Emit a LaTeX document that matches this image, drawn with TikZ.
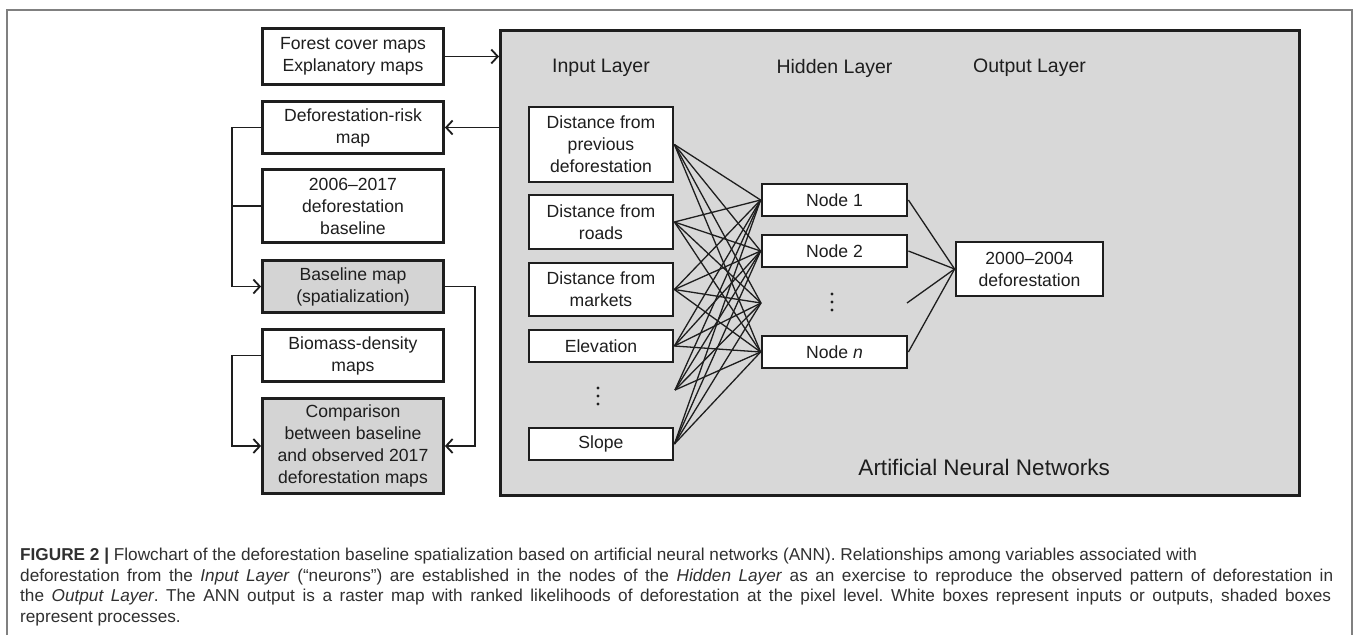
\documentclass[tikz,border=0pt]{standalone}
\usepackage{fontspec}
\setmainfont{Liberation Sans}
\usetikzlibrary{arrows.meta}
\definecolor{panel}{HTML}{D8D8D8}
\definecolor{proc}{HTML}{D4D4D4}
\definecolor{ink}{HTML}{1E1E1E}
\definecolor{framegray}{HTML}{808080}
\definecolor{captext}{HTML}{303030}
\frenchspacing
\newcommand{\capfont}{\fontsize{17.2}{20}\selectfont}

\begin{document}
\begin{tikzpicture}[x=1pt,y=-1pt,
  box/.style={draw=ink, line width=2.8pt, fill=white, align=center, inner sep=0pt,
              text=ink, font=\fontsize{17.6}{22}\selectfont},
  procbox/.style={box, fill=proc},
  link/.style={draw=ink, line width=1.8pt},
  arr/.style={link, -{Straight Barb[length=6.5pt,width=14pt]}},
  net/.style={draw=ink, line width=1.3pt},
  layer/.style={text=ink, font=\fontsize{19.5}{22}\selectfont},
  dotsmark/.style={inner sep=0pt, minimum width=6, minimum height=22},
  capline/.style={anchor=base west, inner sep=0pt, text=captext},
]
\useasboundingbox (0,0) rectangle (1358,635);
\fill[white] (0,0) rectangle (1358,635);

% page frame around figure and caption
\draw[framegray, line width=1.5pt] (7,635) -- (7,10) -- (1352,10) -- (1352,635);

% ANN panel
\node[draw=ink, line width=3.4pt, fill=panel, minimum width=799, minimum height=465,
      anchor=north west, inner sep=0pt] (ann) at (499,29) {};

% left column: inputs, outputs and processes
\node[box, minimum width=181, minimum height=56] (fc)   at (353,56.5) {Forest cover maps\\Explanatory maps};
\node[box, minimum width=181, minimum height=52] (risk) at (353,127.5) {Deforestation-risk\\map};
\node[box, minimum width=181, minimum height=73] (base) at (353,206) {2006--2017\\deforestation\\baseline};
\node[procbox, minimum width=181, minimum height=52] (bmap) at (353,286.5) {Baseline map\\(spatialization)};
\node[box, minimum width=181, minimum height=52] (bio)  at (353,355.5) {Biomass-density\\maps};
\node[procbox, minimum width=181, minimum height=95] (comp) at (353,446) {Comparison\\between baseline\\and observed 2017\\deforestation maps};

\coordinate (spineL) at (232,0);
\coordinate (spineR) at (475,0);

\draw[arr] (fc.east) -- (fc.east -| ann.west);
\draw[arr] (ann.west |- risk.east) -- (risk.east);
\draw[arr] (risk.west) -- (risk.west -| spineL) |- (bmap.west);
\draw[link] (base.west) -- (base.west -| spineL);
\draw[arr] (bio.west) -- (bio.west -| spineL) |- (comp.west);
\draw[arr] (bmap.east) -- (bmap.east -| spineR) |- (comp.east);

% layer titles
\node[layer] (tin)  at (601,68) {Input Layer};
\node[layer] (thid) at (834.5,68) {Hidden Layer};
\node[layer] (tout) at (1029.5,68) {Output Layer};

% input layer
\node[box, minimum width=144, minimum height=75] (in1) at (601,144.5) {Distance from\\previous\\deforestation};
\node[box, minimum width=144, minimum height=54] (in2) at (601,222) {Distance from\\roads};
\node[box, minimum width=144, minimum height=53] (in3) at (601,289.5) {Distance from\\markets};
\node[box, minimum width=144, minimum height=32] (in4) at (601,346) {Elevation};
\node[dotsmark] (idots) at (598,396) {};
\coordinate (idotsR) at (675,390);
\node[box, minimum width=144, minimum height=32] (in5) at (601,444) {Slope};

% hidden layer
\node[box, minimum width=145, minimum height=32] (h1) at (834.5,200) {Node 1};
\node[box, minimum width=145, minimum height=32] (h2) at (834.5,251) {Node 2};
\node[dotsmark] (hdots) at (832,302) {};
\coordinate (hdotsL) at (761,303);
\coordinate (hdotsR) at (907,303);
\node[box, minimum width=145, minimum height=32] (hn) at (834.5,352) {Node \textit{n}};

% vertical ellipses
\foreach \d in {-8,0,8} {
  \fill[ink] (idots) ++(0,\d) circle (1.6);
  \fill[ink] (hdots) ++(0,\d) circle (1.6);
}

% output layer
\node[box, minimum width=147, minimum height=54] (out) at (1029.5,269) {2000--2004\\deforestation};

% connections
\foreach \s in {in1.east,in2.east,in3.east,in4.east,idotsR,in5.east}
  \foreach \t in {h1.west,h2.west,hdotsL,hn.west}
    \draw[net] (\s) -- (\t);
\foreach \s in {h1.east,h2.east,hdotsR,hn.east}
  \draw[net] (\s) -- (out.west);

\node[anchor=east, text=ink, font=\fontsize{22.5}{26}\selectfont, inner sep=0pt] (annlabel) at (1110,467) {Artificial Neural Networks};

% caption, justified lines set as stretched boxes
\node[capline] (cap1) at (20,560.5) {\capfont\textbf{FIGURE 2 |} Flowchart of the deforestation baseline spatialization based on artificial neural networks (ANN). Relationships among variables associated with};
\node[capline] (cap2) at (20,581) {\capfont\hbox to 1313pt{deforestation from the \textit{Input Layer} (“neurons”) are established in the nodes of the \textit{Hidden Layer} as an exercise to reproduce the observed pattern of deforestation in}};
\node[capline] (cap3) at (20,601.5) {\capfont\hbox to 1311pt{the \textit{Output Layer}. The ANN output is a raster map with ranked likelihoods of deforestation at the pixel level. White boxes represent inputs or outputs, shaded boxes}};
\node[capline] (cap4) at (20,622) {\capfont represent processes.};
\end{tikzpicture}
\end{document}
